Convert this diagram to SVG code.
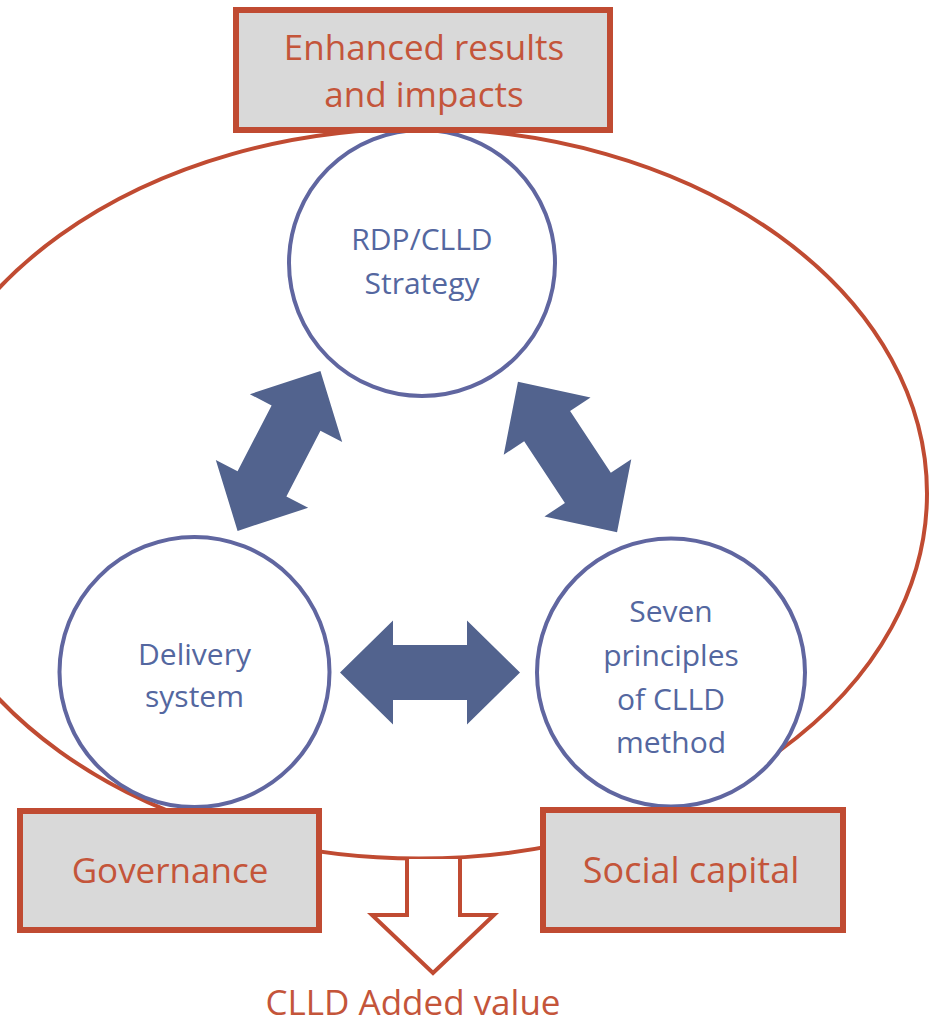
<svg xmlns="http://www.w3.org/2000/svg" xmlns:xlink="http://www.w3.org/1999/xlink" width="931" height="1026" viewBox="0 0 931 1026">
  <style>
    .frame { fill: none; stroke: #C04B32; stroke-width: 4; }
    .box { fill: #D9D9D9; stroke: #C04B32; stroke-width: 6; }
    .circ { fill: #FFFFFF; stroke: #6066A0; stroke-width: 4; }
    .dbl { fill: #52638E; }
    .out { fill: #FFFFFF; stroke: #C04B32; stroke-width: 4; stroke-linejoin: miter; }
    .rt { font-family: "Open Sans", "Liberation Sans", sans-serif; fill: #C4553A; text-anchor: middle; }
    .bt { font-family: "Open Sans", "Liberation Sans", sans-serif; fill: #5467A0; text-anchor: middle; font-size: 30px; }
  </style>
  <defs>
    <path id="dblArrow" d="M -90,0 L -37,-52 L -37,-27.5 L 37,-27.5 L 37,-52 L 90,0 L 37,52 L 37,27.5 L -37,27.5 L -37,52 Z"/>
  </defs>
  <rect width="931" height="1026" fill="#FFFFFF"/>

  <g id="frame-ellipse">
    <ellipse class="frame" cx="419" cy="493.5" rx="508" ry="365"/>
  </g>

  <g id="connectors">
    <use xlink:href="#dblArrow" href="#dblArrow" class="dbl" transform="translate(279,451) rotate(-62.6)"/>
    <use xlink:href="#dblArrow" href="#dblArrow" class="dbl" transform="translate(567.5,457) rotate(56.6)"/>
    <use xlink:href="#dblArrow" href="#dblArrow" class="dbl" transform="translate(430,672.5)"/>
    <path class="out" d="M 407,859 L 407,915 L 372,915 L 433,973 L 494,915 L 460,915 L 460,859"/>
  </g>

  <g id="node-strategy">
    <circle class="circ" cx="422" cy="263" r="133"/>
    <text class="bt" x="422" y="250">RDP/CLLD</text>
    <text class="bt" x="422" y="294">Strategy</text>
  </g>

  <g id="node-delivery">
    <circle class="circ" cx="194.5" cy="672" r="135"/>
    <text class="bt" x="194.5" y="665">Delivery</text>
    <text class="bt" x="194.5" y="707">system</text>
  </g>

  <g id="node-principles">
    <circle class="circ" cx="671" cy="672.5" r="134"/>
    <text class="bt" x="671" y="622">Seven</text>
    <text class="bt" x="671" y="666">principles</text>
    <text class="bt" x="671" y="710">of CLLD</text>
    <text class="bt" x="671" y="753">method</text>
  </g>

  <g id="node-results">
    <rect class="box" x="236" y="10" width="374" height="120"/>
    <text class="rt" x="424" y="60" font-size="35">Enhanced results</text>
    <text class="rt" x="424" y="107" font-size="35">and impacts</text>
  </g>

  <g id="node-governance">
    <rect class="box" x="20" y="811" width="299" height="119"/>
    <text class="rt" x="170" y="883" font-size="35">Governance</text>
  </g>

  <g id="node-social">
    <rect class="box" x="543" y="810" width="300" height="120"/>
    <text class="rt" x="691" y="883" font-size="36">Social capital</text>
  </g>

  <g id="label-added-value">
    <text class="rt" x="413" y="1015" font-size="35">CLLD Added value</text>
  </g>
</svg>
